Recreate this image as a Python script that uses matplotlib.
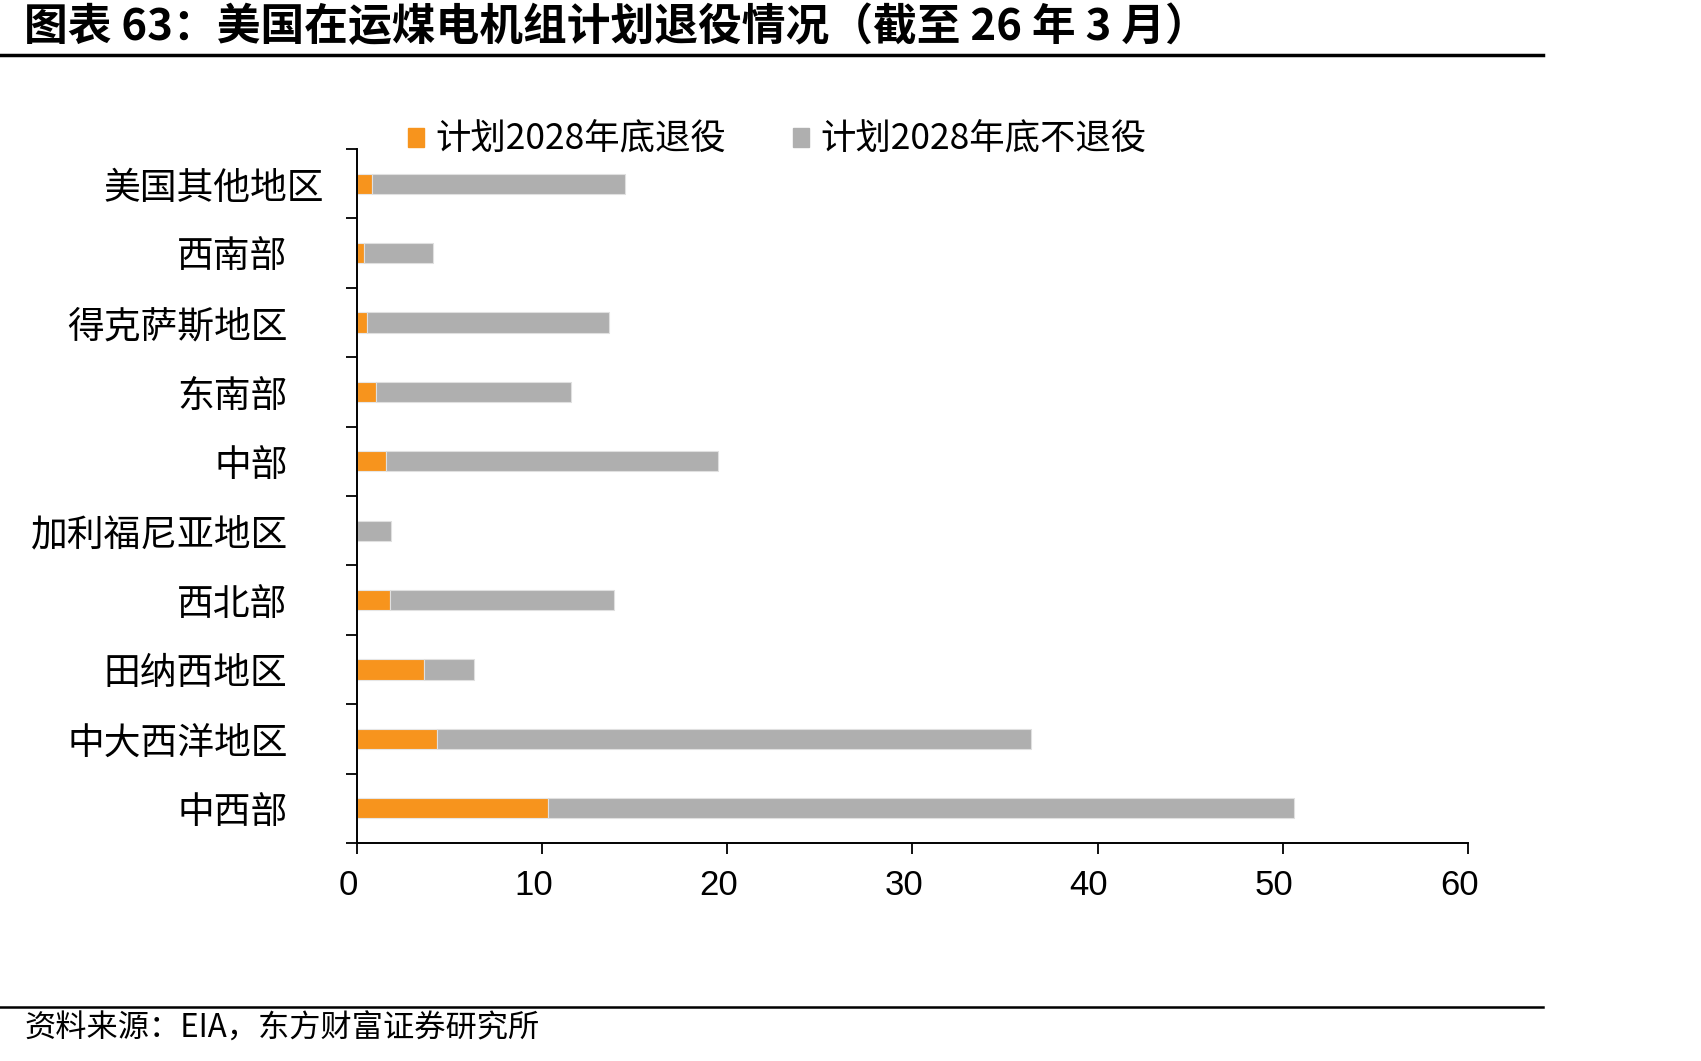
import numpy as np
import matplotlib.pyplot as plt
import matplotlib.transforms as mtransforms
from matplotlib.patches import Patch

plt.rcParams['font.family'] = ['Noto Sans CJK SC', 'DejaVu Sans']

# top to bottom as in the chart
regions = ['美国其他地区', '西南部', '得克萨斯地区', '东南部', '中部',
           '加利福尼亚地区', '西北部', '田纳西地区', '中大西洋地区', '中西部']
retire = np.array([0.8, 0.4, 0.55, 1.0, 1.55, 0.0, 1.8, 3.6, 4.3, 10.3])
total = np.array([14.5, 4.1, 13.6, 11.55, 19.5, 1.85, 13.9, 6.3, 36.4, 50.6])
keep = total - retire

xticks = [0, 10, 20, 30, 40, 50, 60]
lbl_retire = '计划2028年底退役'
lbl_keep = '计划2028年底不退役'

c_orange = '#F7941D'
c_gray = '#AFAFAF'

fig = plt.figure(figsize=(17.01, 10.61), dpi=100)
ax = fig.add_axes([0.2099, 0.2055, 0.653, 0.6541])

y = np.arange(len(regions))
ax.barh(y, retire, height=0.29, color=c_orange, edgecolor='#E6E6E6', linewidth=0.8)
ax.barh(y, keep, left=retire, height=0.29, color=c_gray, edgecolor='#E0E0E0', linewidth=0.8)

ax.set_ylim(len(regions) - 0.5, -0.5)
ax.set_xlim(0, 60)
ax.set_xticks(xticks)
ax.set_xticklabels([str(v) for v in xticks], family='Liberation Sans', fontsize=25)
ax.set_yticks(y)
ax.set_yticklabels(regions, fontsize=26.5)
ax.set_yticks(np.arange(-0.5, len(regions), 1.0), minor=True)

for s in ['top', 'right']:
    ax.spines[s].set_visible(False)
for s in ['left', 'bottom']:
    ax.spines[s].set_linewidth(1.4)
    ax.spines[s].set_color('black')

ax.tick_params(axis='x', direction='out', length=8, width=1.3, pad=11)
ax.tick_params(axis='y', which='major', length=0, pad=50)
ax.tick_params(axis='y', which='minor', direction='out', length=8, width=1.3)
ax.yaxis.get_major_ticks()[0].set_pad(24)

# x labels sit a little left of their ticks in the original
shift = mtransforms.ScaledTranslation(-0.087, 0, fig.dpi_scale_trans)
for lab in ax.get_xticklabels():
    lab.set_transform(lab.get_transform() + shift)

handles = [Patch(color=c_orange), Patch(color=c_gray)]
fig.legend(handles, [lbl_retire, lbl_keep], loc='center left',
           bbox_to_anchor=(408 / 1701, 1 - 140 / 1061), ncol=2, frameon=False,
           fontsize=25.5, handlelength=0.44, handleheight=0.44, handletextpad=0.32,
           columnspacing=1.9, borderpad=0, borderaxespad=0)

fig.text(24 / 1701, 1 - 27 / 1061, '图表 63：美国在运煤电机组计划退役情况（截至 26 年 3 月）',
         fontsize=31.5, fontweight='bold', va='center', ha='left')
fig.add_artist(plt.Line2D([0, 0.907], [1 - 55 / 1061] * 2, color='black', linewidth=2.5))
fig.add_artist(plt.Line2D([0, 0.907], [1 - 1007 / 1061] * 2, color='black', linewidth=1.8))
fig.text(24 / 1701, 1 - 1029 / 1061, '资料来源：EIA，东方财富证券研究所',
         fontsize=22.5, va='center', ha='left')

fig.savefig('out.png', dpi=100)
